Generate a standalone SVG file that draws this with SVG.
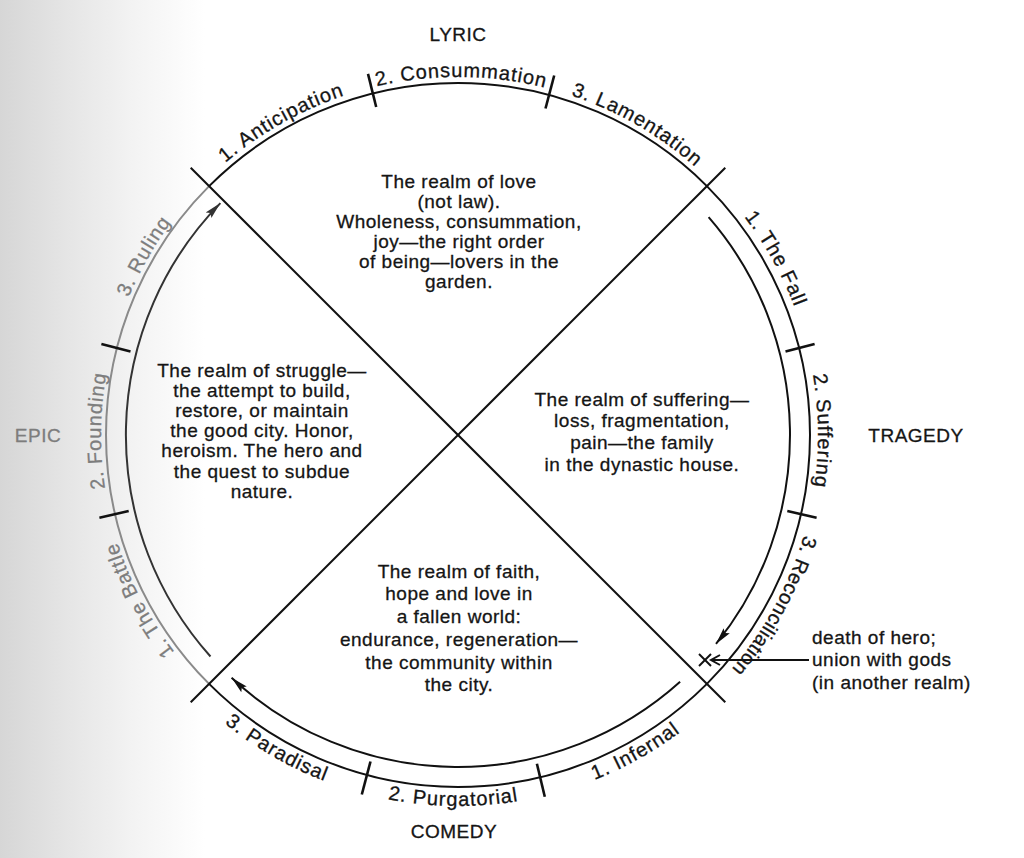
<svg xmlns="http://www.w3.org/2000/svg" width="1024" height="858" viewBox="0 0 1024 858">
<defs>
<style>
.t{font-family:"Liberation Sans",Arial,Helvetica,sans-serif;font-size:19px;fill:#151515;stroke:#151515;stroke-width:0.3px;letter-spacing:0.5px}
.a{font-size:20px;letter-spacing:0.9px}
.c{text-anchor:middle}
.g{fill:#7d7d7d;stroke:#7d7d7d}
.ln{stroke:#111;stroke-width:2;fill:none}
.tk{stroke:#111;stroke-width:2.6;fill:none}
.arr{stroke:#111;stroke-width:2;fill:none;marker-end:url(#ah)}
</style>
<linearGradient id="scan" x1="0" y1="0" x2="1" y2="0">
<stop offset="0" stop-color="#d6d6d6"/>
<stop offset="0.06" stop-color="#e4e4e4"/>
<stop offset="0.13" stop-color="#f3f3f3"/>
<stop offset="0.2" stop-color="#ffffff"/>
</linearGradient>
<marker id="ah" markerUnits="userSpaceOnUse" markerWidth="20" markerHeight="12" refX="17" refY="5" orient="auto">
<path d="M0,1 L17,5 L0,9 L3,5 Z" fill="#111"/>
</marker>
<marker id="ahg" markerUnits="userSpaceOnUse" markerWidth="20" markerHeight="12" refX="17" refY="5" orient="auto">
<path d="M0,1 L17,5 L0,9 L3,5 Z" fill="#333"/>
</marker>
<path id="pA1" d="M204.9,181.9 A358,358 0 0 1 371.4,87.6"/>
<path id="pA2" d="M371.4,87.6 A358,358 0 0 1 550.7,89.2"/>
<path id="pA3" d="M550.7,89.2 A358,358 0 0 1 711.1,181.9"/>
<path id="pR1" d="M712.6,180.4 A360,360 0 0 1 806.8,346.1"/>
<path id="pR2" d="M806.8,346.1 A360,360 0 0 1 808.8,516.0"/>
<path id="pR3" d="M808.8,516.0 A360,360 0 0 1 712.6,689.6"/>
<path id="pB1" d="M544.6,795.8 A371,371 0 0 0 720.3,697.3"/>
<path id="pB2" d="M362.0,793.3 A371,371 0 0 0 544.6,795.8"/>
<path id="pB3" d="M195.7,697.3 A371,371 0 0 0 362.0,793.3"/>
<path id="pL1" d="M205.6,687.4 A357,357 0 0 1 110.1,515.3"/>
<path id="pL2" d="M110.1,515.3 A357,357 0 0 1 112.1,346.8"/>
<path id="pL3" d="M112.1,346.8 A357,357 0 0 1 205.6,182.6"/>
</defs>
<rect x="0" y="0" width="1024" height="858" fill="url(#scan)"/>

<g id="connectors">
<path class="ln" d="M209.1,683.9 A352,352 0 1 0 209.1,186.1"/>
<path d="M209.1,186.1 A352,352 0 0 0 209.1,683.9" fill="none" stroke="#8a8a8a" stroke-width="2"/>
<line class="ln" x1="190.7" y1="167.7" x2="725.3" y2="702.3"/>
<line class="ln" x1="725.3" y1="167.7" x2="190.7" y2="702.3"/>
<path class="arr" d="M708.6,217.2 A332,332 0 0 1 716.0,643.9"/>
<path class="arr" d="M680.1,681.7 A332,332 0 0 1 231.6,677.8"/>
<path d="M210.5,656.5 A332,332 0 0 1 220.4,203.1" fill="none" stroke="#333" stroke-width="2" marker-end="url(#ahg)"/>
<line class="tk" x1="376.2" y1="107.0" x2="368.0" y2="73.9"/>
<line class="tk" x1="545.5" y1="108.5" x2="554.2" y2="75.5"/>
<line class="tk" x1="785.5" y1="351.5" x2="814.6" y2="344.1"/>
<line class="tk" x1="787.3" y1="511.1" x2="816.6" y2="517.8"/>
<line class="tk" x1="536.9" y1="763.7" x2="544.8" y2="796.8"/>
<line class="tk" x1="370.5" y1="761.5" x2="361.8" y2="794.5"/>
<line class="tk" x1="128.7" y1="511.1" x2="99.4" y2="517.8"/>
<line class="tk" x1="130.5" y1="351.5" x2="101.4" y2="344.1"/>
<line class="ln" x1="699" y1="654" x2="711" y2="666"/>
<line class="ln" x1="699" y1="666" x2="711" y2="654"/>
<polyline class="ln" points="720,655 711,660 720,665"/>
<line class="ln" x1="711" y1="660" x2="809" y2="660"/>
</g>

<g id="genre-lyric"><text class="t c" x="458" y="41">LYRIC</text></g>
<g id="genre-tragedy"><text class="t c" x="916" y="442">TRAGEDY</text></g>
<g id="genre-comedy"><text class="t c" x="454" y="838">COMEDY</text></g>
<g id="genre-epic"><text class="t c g" x="38" y="442">EPIC</text></g>

<g id="lyric-phases">
<text class="t a c"><textPath href="#pA1" startOffset="50%">1. Anticipation</textPath></text>
<text class="t a c"><textPath href="#pA2" startOffset="50%">2. Consummation</textPath></text>
<text class="t a c"><textPath href="#pA3" startOffset="50%">3. Lamentation</textPath></text>
</g>
<g id="tragedy-phases">
<text class="t a c"><textPath href="#pR1" startOffset="52%">1. The Fall</textPath></text>
<text class="t a c"><textPath href="#pR2" startOffset="50%">2. Suffering</textPath></text>
<text class="t a c" style="letter-spacing:0.4px"><textPath href="#pR3" startOffset="48%">3. Reconciliation</textPath></text>
</g>
<g id="comedy-phases">
<text class="t a c"><textPath href="#pB1" startOffset="50%">1. Infernal</textPath></text>
<text class="t a c"><textPath href="#pB2" startOffset="50%">2. Purgatorial</textPath></text>
<text class="t a c"><textPath href="#pB3" startOffset="50%">3. Paradisal</textPath></text>
</g>
<g id="epic-phases">
<text class="t a c g"><textPath href="#pL1" startOffset="55%">1. The Battle</textPath></text>
<text class="t a c g"><textPath href="#pL2" startOffset="50%">2. Founding</textPath></text>
<text class="t a c g"><textPath href="#pL3" startOffset="50%">3. Ruling</textPath></text>
</g>

<g id="realm-love">
<text class="t c" x="459" y="188">The realm of love</text>
<text class="t c" x="459" y="208">(not law).</text>
<text class="t c" x="459" y="228">Wholeness, consummation,</text>
<text class="t c" x="459" y="248">joy—the right order</text>
<text class="t c" x="459" y="268">of being—lovers in the</text>
<text class="t c" x="459" y="288">garden.</text>
</g>
<g id="realm-struggle">
<text class="t c" x="262" y="377">The realm of struggle—</text>
<text class="t c" x="262" y="397">the attempt to build,</text>
<text class="t c" x="262" y="417">restore, or maintain</text>
<text class="t c" x="262" y="437">the good city. Honor,</text>
<text class="t c" x="262" y="457">heroism. The hero and</text>
<text class="t c" x="262" y="478">the quest to subdue</text>
<text class="t c" x="262" y="498">nature.</text>
</g>
<g id="realm-suffering">
<text class="t c" x="642" y="406">The realm of suffering—</text>
<text class="t c" x="642" y="427">loss, fragmentation,</text>
<text class="t c" x="642" y="449">pain—the family</text>
<text class="t c" x="642" y="471">in the dynastic house.</text>
</g>
<g id="realm-faith">
<text class="t c" x="459" y="578">The realm of faith,</text>
<text class="t c" x="459" y="600">hope and love in</text>
<text class="t c" x="459" y="623">a fallen world:</text>
<text class="t c" x="459" y="646">endurance, regeneration—</text>
<text class="t c" x="459" y="669">the community within</text>
<text class="t c" x="459" y="691">the city.</text>
</g>
<g id="note-death">
<text class="t" x="812" y="644">death of hero;</text>
<text class="t" x="812" y="666">union with gods</text>
<text class="t" x="812" y="689">(in another realm)</text>
</g>
</svg>
